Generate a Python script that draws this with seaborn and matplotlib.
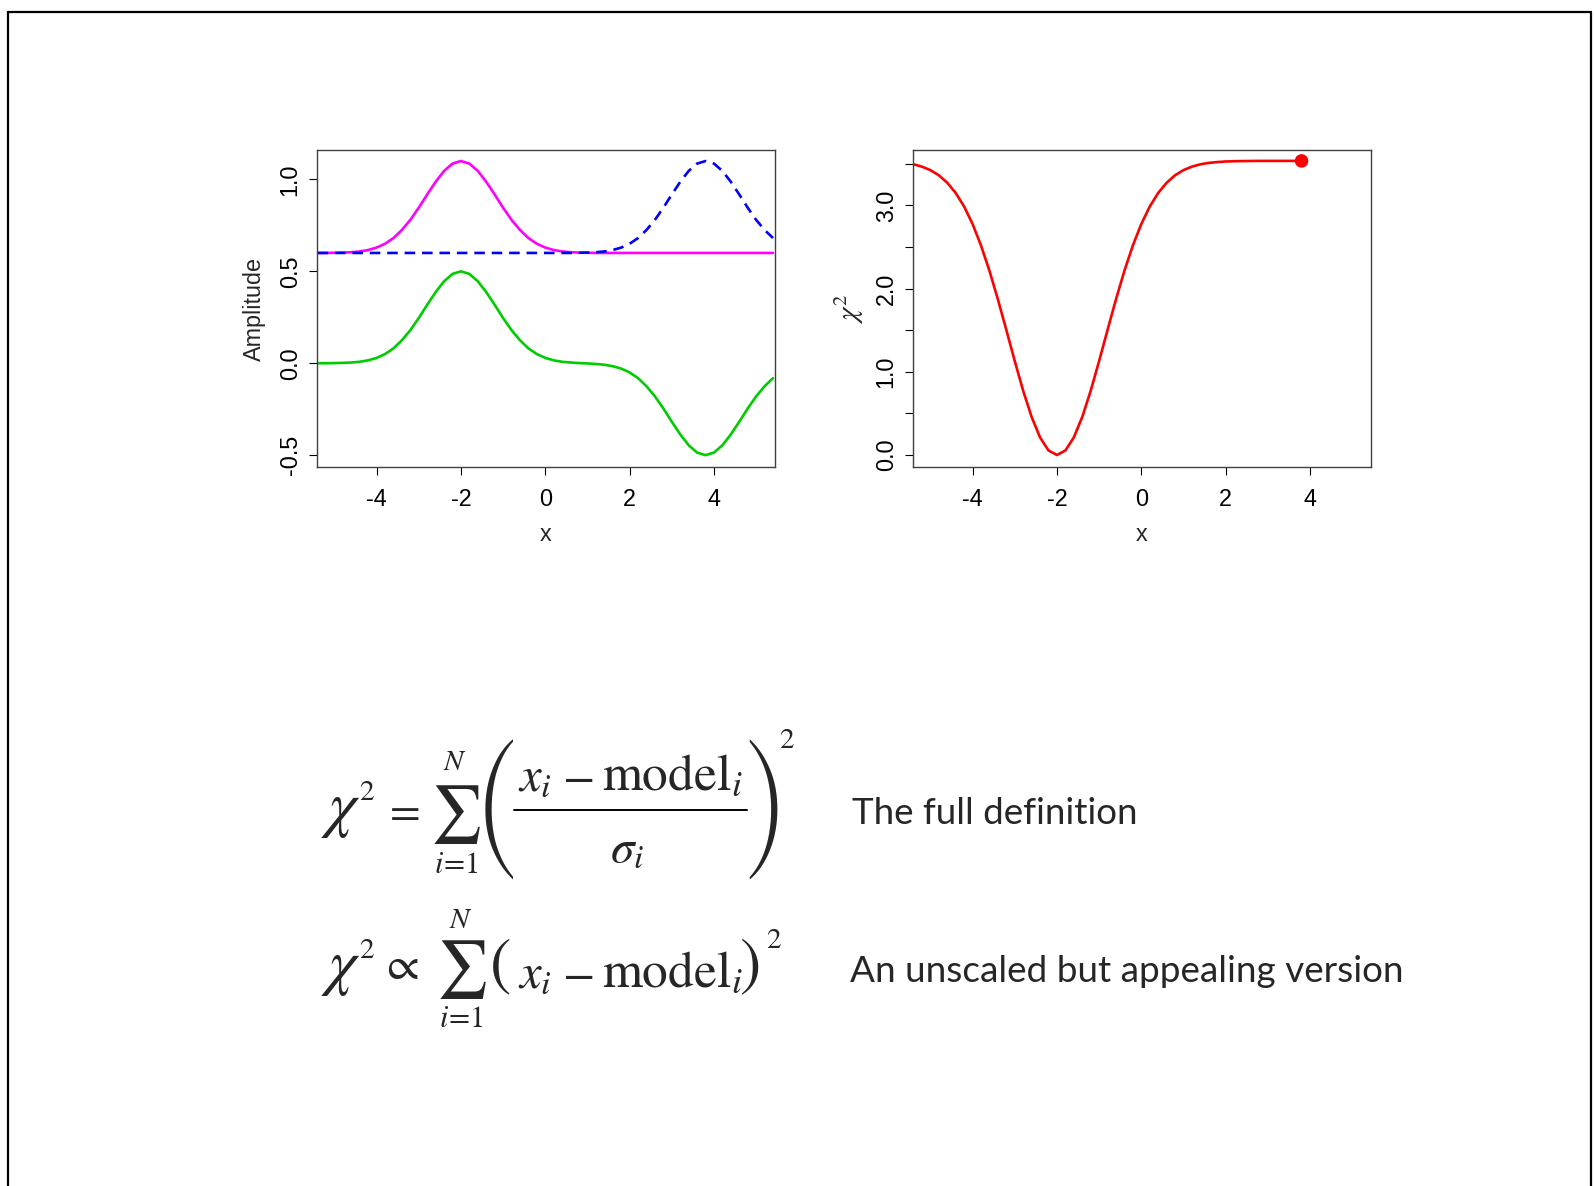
import matplotlib
matplotlib.use("Agg")
import matplotlib.pyplot as plt
from matplotlib.lines import Line2D
import pandas as pd
import seaborn as sns

# ==============================
# data
# ==============================
x_amp = [-5.4, -5.2, -5.0, -4.8, -4.6, -4.4, -4.2, -4.0, -3.8, -3.6, -3.4,
         -3.2, -3.0, -2.8, -2.6, -2.4, -2.2, -2.0, -1.8, -1.6, -1.4, -1.2,
         -1.0, -0.8, -0.6, -0.4, -0.2, 0.0, 0.2, 0.4, 0.6, 0.8, 1.0, 1.2,
         1.4, 1.6, 1.8, 2.0, 2.2, 2.4, 2.6, 2.8, 3.0, 3.2, 3.4, 3.6, 3.8,
         4.0, 4.2, 4.4, 4.6, 4.8, 5.0, 5.2, 5.4]

# magenta: the data
data_amp = [0.600, 0.600, 0.601, 0.602, 0.604, 0.608, 0.616, 0.629, 0.650, 0.681, 0.725,
            0.780, 0.846, 0.918, 0.987, 1.046, 1.086, 1.100, 1.086, 1.046, 0.987, 0.918,
            0.846, 0.780, 0.725, 0.681, 0.650, 0.629, 0.616, 0.608, 0.604, 0.602, 0.601, 0.600,
            0.600, 0.600, 0.600, 0.600, 0.600, 0.600, 0.600, 0.600, 0.600, 0.600, 0.600, 0.600, 0.600,
            0.600, 0.600, 0.600, 0.600, 0.600, 0.600, 0.600, 0.600]

# blue dashed: the shifted model
model_amp = [0.600, 0.600, 0.600, 0.600, 0.600, 0.600, 0.600, 0.600, 0.600, 0.600, 0.600,
             0.600, 0.600, 0.600, 0.600, 0.600, 0.600, 0.600, 0.600, 0.600, 0.600, 0.600,
             0.600, 0.600, 0.600, 0.600, 0.600, 0.600, 0.600, 0.600, 0.600, 0.601, 0.602, 0.604,
             0.608, 0.616, 0.629, 0.650, 0.681, 0.725, 0.780, 0.846, 0.918, 0.987, 1.046, 1.086, 1.100,
             1.086, 1.046, 0.987, 0.918, 0.846, 0.780, 0.725, 0.681]

# green: data minus model
resid_amp = [0.000, 0.000, 0.001, 0.002, 0.004, 0.008, 0.016, 0.029, 0.050, 0.081, 0.125,
             0.180, 0.246, 0.318, 0.387, 0.446, 0.486, 0.500, 0.486, 0.446, 0.387, 0.318,
             0.246, 0.180, 0.125, 0.081, 0.050, 0.029, 0.016, 0.008, 0.004, 0.001, -0.001, -0.004,
             -0.008, -0.016, -0.029, -0.050, -0.081, -0.125, -0.180, -0.246, -0.318, -0.387, -0.446, -0.486, -0.500,
             -0.486, -0.446, -0.387, -0.318, -0.246, -0.180, -0.125, -0.081]

x_shift = [-5.4, -5.2, -5.0, -4.8, -4.6, -4.4, -4.2, -4.0, -3.8, -3.6, -3.4,
           -3.2, -3.0, -2.8, -2.6, -2.4, -2.2, -2.0, -1.8, -1.6, -1.4, -1.2,
           -1.0, -0.8, -0.6, -0.4, -0.2, 0.0, 0.2, 0.4, 0.6, 0.8, 1.0, 1.2,
           1.4, 1.6, 1.8, 2.0, 2.2, 2.4, 2.6, 2.8, 3.0, 3.2, 3.4, 3.6, 3.8]
chi2 = [3.494, 3.466, 3.424, 3.362, 3.272, 3.149, 2.986, 2.776, 2.518, 2.214, 1.871,
        1.503, 1.129, 0.771, 0.457, 0.211, 0.054, 0.000, 0.054, 0.211, 0.457, 0.771,
        1.129, 1.503, 1.871, 2.214, 2.518, 2.776, 2.986, 3.149, 3.272, 3.362, 3.424, 3.466,
        3.494, 3.511, 3.521, 3.528, 3.531, 3.533, 3.534, 3.535, 3.535, 3.535, 3.535, 3.535, 3.535]
shift_now = [3.8]
chi2_now = [3.535]

amp_yticks = [-0.5, 0.0, 0.5, 1.0]
amp_ylabels = ["-0.5", "0.0", "0.5", "1.0"]
chi_yticks = [0.0, 0.5, 1.0, 1.5, 2.0, 2.5, 3.0, 3.5]
chi_ylabels = ["0.0", "", "1.0", "", "2.0", "", "3.0", ""]
xticks = [-4, -2, 0, 2, 4]
xlabels = ["-4", "-2", "0", "2", "4"]

# ==============================
# style
# ==============================
sns.set_style("ticks")
plt.rcParams['font.family'] = ['Liberation Sans', 'DejaVu Sans']
plt.rcParams['axes.unicode_minus'] = False
plt.rcParams['mathtext.fontset'] = 'stix'

W, H = 1594, 1186
fig = plt.figure(figsize=(W / 100, H / 100), dpi=100)
fig.patch.set_facecolor("white")

FS = 16.8


def r_axes(left_px):
    ax = fig.add_axes([left_px / W, 1 - 467.3 / H, 458 / W, 317.3 / H])
    for s in ax.spines.values():
        s.set_visible(True)
        s.set_color("#404040")
        s.set_linewidth(1.0)
    ax.tick_params(axis="both", direction="out", length=5.8, width=0.8,
                   color="black", labelsize=FS, labelcolor="black")
    ax.tick_params(axis="x", pad=9)
    ax.tick_params(axis="y", pad=5)
    ax.set_xlim(-5.42, 5.44)
    ax.set_xticks(xticks)
    ax.set_xticklabels(xlabels)
    ax.set_xlabel("x", fontsize=FS, labelpad=9)
    return ax


# ==============================
# left panel: amplitude
# ==============================
amp = pd.DataFrame({"x": x_amp, "data": data_amp, "model": model_amp, "resid": resid_amp})
ax1 = r_axes(316.7)
sns.lineplot(data=amp, x="x", y="resid", ax=ax1, color="#00CD00", lw=1.9)
sns.lineplot(data=amp, x="x", y="data", ax=ax1, color="#FF00FF", lw=1.9)
sns.lineplot(data=amp, x="x", y="model", ax=ax1, color="#0000FF", lw=1.9,
             linestyle=(0, (4, 2.6)))
ax1.set_ylim(-0.566, 1.160)
ax1.set_yticks(amp_yticks)
ax1.set_yticklabels(amp_ylabels)
ax1.set_ylabel("Amplitude", fontsize=FS, labelpad=9)

# ==============================
# right panel: chi^2 vs shift
# ==============================
chi = pd.DataFrame({"shift": x_shift, "chi2": chi2})
ax2 = r_axes(912.7)
sns.lineplot(data=chi, x="shift", y="chi2", ax=ax2, color="#FF0000", lw=1.9)
sns.scatterplot(x=shift_now, y=chi2_now, ax=ax2, color="#FF0000", s=95,
                edgecolor="none", zorder=5)
ax2.set_ylim(-0.148, 3.666)
ax2.set_yticks(chi_yticks)
ax2.set_yticklabels(chi_ylabels)
ax2.set_ylabel(r"$\chi^2$", fontsize=21, labelpad=6)

for ax in (ax1, ax2):
    for lab in ax.get_yticklabels():
        lab.set_rotation(90)
        lab.set_va("center")


# ==============================
# equations (pieces placed in pixel coordinates)
# ==============================
def put(s, x, y, size, ha="center", va="center", **kw):
    fig.text(x / W, 1 - y / H, s, fontsize=size, ha=ha, va=va, **kw)


def numerator(y_base):
    put(r"$x_i$", 518, y_base, 35, ha="left", va="baseline")
    put(r"$-$", 578, y_base, 34, ha="center", va="baseline")
    put(r"$\mathrm{model}_i$", 602, y_base, 37, ha="left", va="baseline")


# full definition
put(r"$\chi$", 341, 810, 45)
put(r"$2$", 367, 792, 21)
put(r"$=$", 401, 811, 32)
put(r"$\sum$", 455.5, 814, 41)
put(r"$N$", 455, 762.5, 21)
put(r"$i\!=\!1$", 456, 865, 22)
put("(", 496, 810, 41, family="STIXSizeThreeSym")
numerator(790)
fig.add_artist(Line2D([514 / W, 747 / W], [1 - 810 / H, 1 - 810 / H],
                      transform=fig.transFigure, color="black", lw=1.4))
put(r"$\sigma_i$", 610, 862, 34, ha="left", va="baseline")
put(")", 766, 810, 41, family="STIXSizeThreeSym")
put(r"$2$", 787, 740, 21)

# unscaled version
put(r"$\chi$", 341, 968, 45)
put(r"$2$", 367, 950, 21)
put(r"$\propto$", 400, 967, 34)
put(r"$\sum$", 461.5, 969.5, 41)
put(r"$N$", 460.5, 920, 21)
put(r"$i\!=\!1$", 461.5, 1019, 22)
put(r"$($", 500, 966.5, 46)
numerator(987)
put(r"$)$", 749, 966.5, 46)
put(r"$2$", 773.5, 940, 21)

fig.text(852 / W, 1 - 813 / H, "The full definition", fontsize=26.5,
         family=["Lato", "DejaVu Sans"], ha="left", va="center")
fig.text(850 / W, 1 - 972 / H, "An unscaled but appealing version", fontsize=26.6,
         family=["Lato", "DejaVu Sans"], ha="left", va="center")

# slide frame
frame_kw = dict(transform=fig.transFigure, color="black", lw=1.6)
fig.add_artist(Line2D([8 / W, 1591 / W], [1 - 12 / H, 1 - 12 / H], **frame_kw))
fig.add_artist(Line2D([8 / W, 8 / W], [0, 1 - 12 / H], **frame_kw))
fig.add_artist(Line2D([1591 / W, 1591 / W], [0, 1 - 12 / H], **frame_kw))

fig.savefig("out.png", dpi=100, facecolor="white")
